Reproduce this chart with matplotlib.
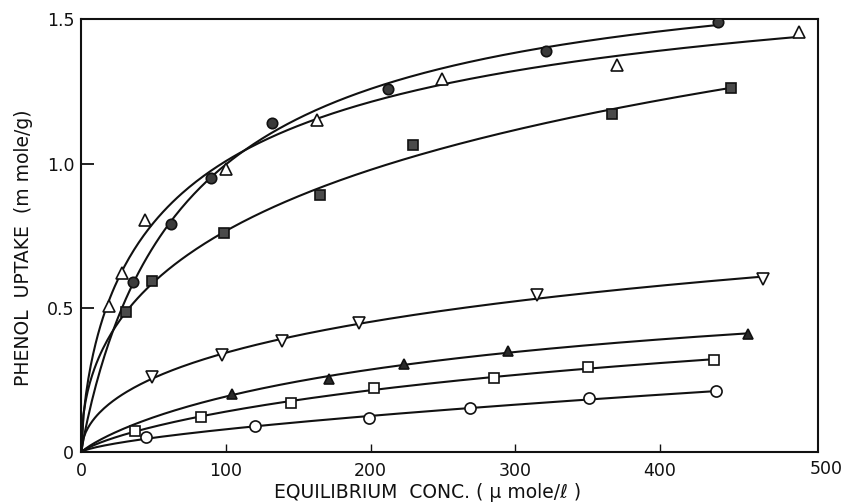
import numpy as np
import matplotlib
matplotlib.use("Agg")
import matplotlib.pyplot as plt

# equilibrium concentration (umole/l) and phenol uptake (mmole/g)
circ_filled_x = np.array([36, 62, 90, 132, 212, 321, 440])
circ_filled_y = np.array([0.59, 0.79, 0.95, 1.14, 1.26, 1.39, 1.49])

tri_open_x = np.array([19, 28, 44, 100, 163, 249, 370, 496])
tri_open_y = np.array([0.508, 0.62, 0.804, 0.981, 1.15, 1.294, 1.343, 1.456])

sq_filled_x = np.array([31, 49, 99, 165, 229, 367, 449])
sq_filled_y = np.array([0.485, 0.594, 0.758, 0.89, 1.064, 1.173, 1.263])

tri_down_x = np.array([49, 97, 139, 192, 315, 471])
tri_down_y = np.array([0.26, 0.337, 0.387, 0.448, 0.545, 0.60])

tri_filled_x = np.array([104, 171, 223, 295, 461])
tri_filled_y = np.array([0.202, 0.254, 0.306, 0.351, 0.41])

sq_open_x = np.array([37, 83, 145, 202, 285, 350, 437])
sq_open_y = np.array([0.075, 0.124, 0.172, 0.223, 0.258, 0.294, 0.32])

circ_open_x = np.array([45, 120, 199, 269, 351, 439])
circ_open_y = np.array([0.052, 0.091, 0.118, 0.153, 0.187, 0.213])

x_ticks = [0, 100, 200, 300, 400]
y_ticks = [0, 0.5, 1.0, 1.5]
y_tick_labels = ["0", "0.5", "1.0", "1.5"]


def sips_curve(x, y, n_pts=300):
    # fit q = a*C^n / (1 + b*C^n), grid over n and b, a by least squares
    best = None
    for n in np.linspace(0.25, 1.0, 76):
        xn = x ** n
        for b in np.concatenate([[0.0], np.logspace(-5, 0, 120)]):
            g = xn / (1 + b * xn)
            a = (g @ y) / (g @ g)
            sse = np.sum((a * g - y) ** 2)
            if best is None or sse < best[0]:
                best = (sse, a, b, n)
    _, a, b, n = best
    xs = np.linspace(0, x.max(), n_pts)
    return xs, a * xs ** n / (1 + b * xs ** n)


ink = "#111111"
plt.rcParams["font.family"] = ["DejaVu Sans"]

fig = plt.figure(figsize=(8.44, 5.04), dpi=100)
ax = fig.add_axes([0.0962, 0.1024, 0.8727, 0.8595])

series = [
    (circ_filled_x, circ_filled_y, "o", "#3a3a3a", 7.5),
    (tri_open_x, tri_open_y, "^", "white", 8.5),
    (sq_filled_x, sq_filled_y, "s", "#4a4a4a", 6.5),
    (tri_down_x, tri_down_y, "v", "white", 8.5),
    (tri_filled_x, tri_filled_y, "^", "#2a2a2a", 7.5),
    (sq_open_x, sq_open_y, "s", "white", 7),
    (circ_open_x, circ_open_y, "o", "white", 8),
]

for x, y, marker, face, size in series:
    xs, ys = sips_curve(x, y)
    ax.plot(xs, ys, "-", color=ink, lw=1.5, zorder=2)
    ax.plot(x, y, linestyle="none", marker=marker, ms=size,
            mfc=face, mec=ink, mew=1.2, zorder=3)

ax.set_xlim(0, 509)
ax.set_ylim(0, 1.5)
ax.set_xticks(x_ticks)
ax.set_yticks(y_ticks)
ax.set_yticklabels(y_tick_labels)
ax.tick_params(axis="both", direction="in", colors=ink, labelsize=12.5)
ax.tick_params(axis="y", length=9, width=1.3, pad=5)
ax.tick_params(axis="x", length=6, width=1.0, pad=7)
ax.text(1.012, -0.018, "500", transform=ax.transAxes, ha="center", va="top",
        fontsize=12.5, color=ink)

for side in ["left", "right", "bottom", "top"]:
    ax.spines[side].set_linewidth(1.5)
    ax.spines[side].set_color(ink)

ax.set_xlabel("EQUILIBRIUM  CONC. ( \u03bc mole/\u2113 )", fontsize=13.5, color=ink)
ax.xaxis.set_label_coords(0.47, -0.07)
ax.set_ylabel("PHENOL  UPTAKE  (m mole/g)", fontsize=13.5, color=ink)
ax.yaxis.set_label_coords(-0.066, 0.472)

fig.savefig("out.png", dpi=100)
